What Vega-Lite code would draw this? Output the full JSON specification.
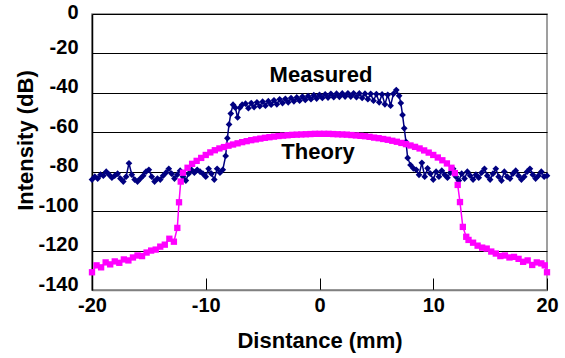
{
  "$schema": "https://vega.github.io/schema/vega-lite/v6.json",
  "width": 455,
  "height": 276,
  "autosize": {"type": "none"},
  "padding": {"left": 92, "top": 14, "right": 18, "bottom": 68},
  "background": "white",
  "config": {
    "view": {"stroke": "#808080", "strokeWidth": 1.5},
    "font": "Liberation Sans"
  },
  "datasets": {
    "curves": [
      {"series":"Measured","x":-20,"y":-84},{"series":"Measured","x":-19.75,"y":-82.5},{"series":"Measured","x":-19.5,"y":-83.5},{"series":"Measured","x":-19.25,"y":-81.5},{"series":"Measured","x":-19,"y":-82},{"series":"Measured","x":-18.75,"y":-80},{"series":"Measured","x":-18.5,"y":-81.5},{"series":"Measured","x":-18.25,"y":-83},{"series":"Measured","x":-18,"y":-82},{"series":"Measured","x":-17.75,"y":-81},{"series":"Measured","x":-17.5,"y":-83.5},{"series":"Measured","x":-17.25,"y":-85},{"series":"Measured","x":-17,"y":-82.5},{"series":"Measured","x":-16.75,"y":-75.7},{"series":"Measured","x":-16.5,"y":-81.5},{"series":"Measured","x":-16.25,"y":-84},{"series":"Measured","x":-16,"y":-85},{"series":"Measured","x":-15.75,"y":-83.5},{"series":"Measured","x":-15.5,"y":-82},{"series":"Measured","x":-15.25,"y":-80},{"series":"Measured","x":-15,"y":-79},{"series":"Measured","x":-14.75,"y":-82.5},{"series":"Measured","x":-14.5,"y":-85},{"series":"Measured","x":-14.25,"y":-83.5},{"series":"Measured","x":-14,"y":-84},{"series":"Measured","x":-13.75,"y":-82},{"series":"Measured","x":-13.5,"y":-80.5},{"series":"Measured","x":-13.25,"y":-78.5},{"series":"Measured","x":-13,"y":-81},{"series":"Measured","x":-12.75,"y":-83.5},{"series":"Measured","x":-12.5,"y":-81.5},{"series":"Measured","x":-12.25,"y":-79.5},{"series":"Measured","x":-12,"y":-82.5},{"series":"Measured","x":-11.75,"y":-84.5},{"series":"Measured","x":-11.5,"y":-81},{"series":"Measured","x":-11.25,"y":-79},{"series":"Measured","x":-11,"y":-80.5},{"series":"Measured","x":-10.75,"y":-79},{"series":"Measured","x":-10.5,"y":-80},{"series":"Measured","x":-10.25,"y":-81},{"series":"Measured","x":-10,"y":-82.5},{"series":"Measured","x":-9.75,"y":-78.5},{"series":"Measured","x":-9.5,"y":-81},{"series":"Measured","x":-9.25,"y":-84},{"series":"Measured","x":-9,"y":-78.5},{"series":"Measured","x":-8.75,"y":-80.5},
      {"series":"Measured","x":-8.5,"y":-79},{"series":"Measured","x":-8.25,"y":-72},{"series":"Measured","x":-8.1,"y":-63},{"series":"Measured","x":-7.95,"y":-56},{"series":"Measured","x":-7.8,"y":-50.5},{"series":"Measured","x":-7.6,"y":-46},{"series":"Measured","x":-7.4,"y":-47.5},{"series":"Measured","x":-7.2,"y":-52.5},{"series":"Measured","x":-7.0,"y":-47.5},{"series":"Measured","x":-6.8,"y":-46},
      {"series":"Measured","x":-6.5,"y":-45.5},{"series":"Measured","x":-6.25,"y":-47.8},{"series":"Measured","x":-6,"y":-45.2},{"series":"Measured","x":-5.75,"y":-47.2},{"series":"Measured","x":-5.5,"y":-44.8},{"series":"Measured","x":-5.25,"y":-46.8},{"series":"Measured","x":-5,"y":-44.5},{"series":"Measured","x":-4.75,"y":-46.5},{"series":"Measured","x":-4.5,"y":-44.2},{"series":"Measured","x":-4.25,"y":-46},{"series":"Measured","x":-4,"y":-43.8},{"series":"Measured","x":-3.75,"y":-45.8},{"series":"Measured","x":-3.5,"y":-43.3},{"series":"Measured","x":-3.25,"y":-45.2},{"series":"Measured","x":-3,"y":-43},{"series":"Measured","x":-2.75,"y":-44.8},{"series":"Measured","x":-2.5,"y":-42.6},{"series":"Measured","x":-2.25,"y":-44.3},{"series":"Measured","x":-2,"y":-42.3},{"series":"Measured","x":-1.75,"y":-44},{"series":"Measured","x":-1.5,"y":-41.9},{"series":"Measured","x":-1.25,"y":-43.6},{"series":"Measured","x":-1,"y":-41.6},{"series":"Measured","x":-0.75,"y":-43.2},{"series":"Measured","x":-0.5,"y":-41.2},{"series":"Measured","x":-0.25,"y":-42.9},{"series":"Measured","x":0,"y":-41},{"series":"Measured","x":0.25,"y":-42.6},{"series":"Measured","x":0.5,"y":-40.7},{"series":"Measured","x":0.75,"y":-42.4},{"series":"Measured","x":1,"y":-40.5},{"series":"Measured","x":1.25,"y":-42.2},{"series":"Measured","x":1.5,"y":-40.4},{"series":"Measured","x":1.75,"y":-42},{"series":"Measured","x":2,"y":-40.3},{"series":"Measured","x":2.25,"y":-41.9},{"series":"Measured","x":2.5,"y":-40.2},{"series":"Measured","x":2.75,"y":-41.9},{"series":"Measured","x":3,"y":-40.2},{"series":"Measured","x":3.25,"y":-42.2},{"series":"Measured","x":3.5,"y":-40.3},{"series":"Measured","x":3.75,"y":-42.6},{"series":"Measured","x":4,"y":-40.4},{"series":"Measured","x":4.25,"y":-43.2},{"series":"Measured","x":4.5,"y":-40.5},{"series":"Measured","x":4.75,"y":-44},{"series":"Measured","x":5,"y":-40.6},{"series":"Measured","x":5.25,"y":-44.8},{"series":"Measured","x":5.5,"y":-40.8},{"series":"Measured","x":5.75,"y":-45.8},{"series":"Measured","x":6,"y":-41},{"series":"Measured","x":6.25,"y":-46.5},{"series":"Measured","x":6.5,"y":-40.5},{"series":"Measured","x":6.75,"y":-38.6},{"series":"Measured","x":7,"y":-41.5},{"series":"Measured","x":7.15,"y":-45.2},
      {"series":"Measured","x":7.3,"y":-51.2},{"series":"Measured","x":7.45,"y":-58},{"series":"Measured","x":7.6,"y":-64.8},{"series":"Measured","x":7.75,"y":-73},{"series":"Measured","x":8,"y":-76.6},{"series":"Measured","x":8.25,"y":-78.3},
      {"series":"Measured","x":8.5,"y":-79},{"series":"Measured","x":8.75,"y":-81.6},{"series":"Measured","x":9,"y":-75.5},{"series":"Measured","x":9.25,"y":-82.5},{"series":"Measured","x":9.5,"y":-78.3},{"series":"Measured","x":9.75,"y":-81},{"series":"Measured","x":10,"y":-84},{"series":"Measured","x":10.25,"y":-80},{"series":"Measured","x":10.5,"y":-82.5},{"series":"Measured","x":10.75,"y":-79.5},{"series":"Measured","x":11,"y":-81.5},{"series":"Measured","x":11.25,"y":-83},{"series":"Measured","x":11.5,"y":-80.5},{"series":"Measured","x":11.75,"y":-78.5},{"series":"Measured","x":12,"y":-82.5},{"series":"Measured","x":12.25,"y":-84.5},{"series":"Measured","x":12.5,"y":-81},{"series":"Measured","x":12.75,"y":-83.5},{"series":"Measured","x":13,"y":-80},{"series":"Measured","x":13.25,"y":-82},{"series":"Measured","x":13.5,"y":-84},{"series":"Measured","x":13.75,"y":-81.5},{"series":"Measured","x":14,"y":-83},{"series":"Measured","x":14.25,"y":-80.5},{"series":"Measured","x":14.5,"y":-78.5},{"series":"Measured","x":14.75,"y":-82},{"series":"Measured","x":15,"y":-84},{"series":"Measured","x":15.25,"y":-81},{"series":"Measured","x":15.5,"y":-78.5},{"series":"Measured","x":15.75,"y":-82.5},{"series":"Measured","x":16,"y":-84.5},{"series":"Measured","x":16.25,"y":-80},{"series":"Measured","x":16.5,"y":-82.5},{"series":"Measured","x":16.75,"y":-83.5},{"series":"Measured","x":17,"y":-81},{"series":"Measured","x":17.25,"y":-79.5},{"series":"Measured","x":17.5,"y":-82},{"series":"Measured","x":17.75,"y":-84},{"series":"Measured","x":18,"y":-82.5},{"series":"Measured","x":18.25,"y":-80},{"series":"Measured","x":18.5,"y":-78.5},{"series":"Measured","x":18.75,"y":-81.5},{"series":"Measured","x":19,"y":-83.5},{"series":"Measured","x":19.25,"y":-82},{"series":"Measured","x":19.5,"y":-80},{"series":"Measured","x":19.75,"y":-82.5},{"series":"Measured","x":20,"y":-82},
      {"series":"Theory","x":-20,"y":-131},{"series":"Theory","x":-19.6,"y":-127.5},{"series":"Theory","x":-19.2,"y":-128.5},{"series":"Theory","x":-18.8,"y":-126},{"series":"Theory","x":-18.4,"y":-127},{"series":"Theory","x":-18,"y":-125.5},{"series":"Theory","x":-17.6,"y":-126.2},{"series":"Theory","x":-17.2,"y":-124.5},{"series":"Theory","x":-16.8,"y":-125},{"series":"Theory","x":-16.4,"y":-123.5},{"series":"Theory","x":-16,"y":-122.5},{"series":"Theory","x":-15.6,"y":-122.8},{"series":"Theory","x":-15.2,"y":-121},{"series":"Theory","x":-14.8,"y":-120},{"series":"Theory","x":-14.4,"y":-119.5},{"series":"Theory","x":-14,"y":-118},{"series":"Theory","x":-13.6,"y":-117},{"series":"Theory","x":-13.2,"y":-114},{"series":"Theory","x":-12.8,"y":-115.5},{"series":"Theory","x":-12.5,"y":-108.5},{"series":"Theory","x":-12.35,"y":-95.5},{"series":"Theory","x":-12.2,"y":-85},{"series":"Theory","x":-12,"y":-80.5},
      {"series":"Theory","x":-11.6,"y":-78},{"series":"Theory","x":-11.2,"y":-76},{"series":"Theory","x":-10.8,"y":-74.5},{"series":"Theory","x":-10.4,"y":-73},{"series":"Theory","x":-10,"y":-71.5},{"series":"Theory","x":-9.6,"y":-70.2},{"series":"Theory","x":-9.2,"y":-69.1},{"series":"Theory","x":-8.8,"y":-68.2},{"series":"Theory","x":-8.4,"y":-67.5},{"series":"Theory","x":-8,"y":-66.8},{"series":"Theory","x":-7.6,"y":-66.2},{"series":"Theory","x":-7.2,"y":-65.6},{"series":"Theory","x":-6.8,"y":-65},{"series":"Theory","x":-6.4,"y":-64.5},{"series":"Theory","x":-6,"y":-64},{"series":"Theory","x":-5.6,"y":-63.6},{"series":"Theory","x":-5.2,"y":-63.2},{"series":"Theory","x":-4.8,"y":-62.8},{"series":"Theory","x":-4.4,"y":-62.5},{"series":"Theory","x":-4,"y":-62.2},{"series":"Theory","x":-3.6,"y":-61.9},{"series":"Theory","x":-3.2,"y":-61.7},{"series":"Theory","x":-2.8,"y":-61.5},{"series":"Theory","x":-2.4,"y":-61.3},{"series":"Theory","x":-2,"y":-61.2},{"series":"Theory","x":-1.6,"y":-61.1},{"series":"Theory","x":-1.2,"y":-61},{"series":"Theory","x":-0.8,"y":-60.9},{"series":"Theory","x":-0.4,"y":-60.8},{"series":"Theory","x":0,"y":-60.8},{"series":"Theory","x":0.4,"y":-60.8},{"series":"Theory","x":0.8,"y":-60.8},{"series":"Theory","x":1.2,"y":-60.9},{"series":"Theory","x":1.6,"y":-61},{"series":"Theory","x":2,"y":-61.1},{"series":"Theory","x":2.4,"y":-61.2},{"series":"Theory","x":2.8,"y":-61.4},{"series":"Theory","x":3.2,"y":-61.6},{"series":"Theory","x":3.6,"y":-61.8},{"series":"Theory","x":4,"y":-62},{"series":"Theory","x":4.4,"y":-62.3},{"series":"Theory","x":4.8,"y":-62.7},{"series":"Theory","x":5.2,"y":-63},{"series":"Theory","x":5.6,"y":-63.4},{"series":"Theory","x":6,"y":-63.8},{"series":"Theory","x":6.4,"y":-64.3},{"series":"Theory","x":6.8,"y":-64.8},{"series":"Theory","x":7.2,"y":-65.4},{"series":"Theory","x":7.6,"y":-66},{"series":"Theory","x":8,"y":-66.7},{"series":"Theory","x":8.4,"y":-67.4},{"series":"Theory","x":8.8,"y":-68.2},{"series":"Theory","x":9.2,"y":-69.2},{"series":"Theory","x":9.6,"y":-70.3},{"series":"Theory","x":10,"y":-71.5},{"series":"Theory","x":10.4,"y":-72.8},{"series":"Theory","x":10.8,"y":-74.2},{"series":"Theory","x":11.2,"y":-75.8},{"series":"Theory","x":11.6,"y":-78},
      {"series":"Theory","x":11.9,"y":-80.7},{"series":"Theory","x":12.15,"y":-86.7},{"series":"Theory","x":12.35,"y":-95.4},{"series":"Theory","x":12.6,"y":-108},{"series":"Theory","x":12.9,"y":-113},{"series":"Theory","x":13.1,"y":-114.6},{"series":"Theory","x":13.5,"y":-116},{"series":"Theory","x":13.9,"y":-117.5},{"series":"Theory","x":14.3,"y":-118.5},{"series":"Theory","x":14.7,"y":-119},{"series":"Theory","x":15.1,"y":-120.5},{"series":"Theory","x":15.5,"y":-121.5},{"series":"Theory","x":15.9,"y":-122.8},{"series":"Theory","x":16.3,"y":-122.5},{"series":"Theory","x":16.7,"y":-123.5},{"series":"Theory","x":17.1,"y":-123.2},{"series":"Theory","x":17.5,"y":-124.2},{"series":"Theory","x":17.9,"y":-125.7},{"series":"Theory","x":18.3,"y":-125},{"series":"Theory","x":18.7,"y":-127.3},{"series":"Theory","x":19.1,"y":-126},{"series":"Theory","x":19.5,"y":-126.5},{"series":"Theory","x":19.8,"y":-127.5},{"series":"Theory","x":20,"y":-131}
    ],
    "labels": [
      {"label":"Measured","x":0.13,"y":-30.9},
      {"label":"Theory","x":-0.13,"y":-70}
    ]
  },
  "layer": [
    {
      "data": {"name": "curves"},
      "mark": {"type": "line", "strokeWidth": 1.5},
      "encoding": {
        "x": {
          "field": "x", "type": "quantitative",
          "scale": {"domain": [-20, 20], "nice": false, "zero": false},
          "axis": {
            "values": [-20, -10, 0, 10, 20],
            "tickCount": 20,
            "labelExpr": "'' + datum.value",
            "title": "Disntance (mm)",
            "titleFont": "Liberation Sans", "titleFontSize": 22, "titleFontWeight": "bold", "titleColor": "black",
            "titleBaseline": "middle", "titleY": 50,
            "labelFont": "Liberation Sans", "labelFontSize": 20, "labelFontWeight": "bold", "labelColor": "black",
            "labelPadding": 17, "labelFlush": false, "labelOverlap": false,
            "grid": false,
            "domainColor": "#808080", "domainWidth": 1.5,
            "ticks": true, "tickSize": -12, "tickColor": "black", "tickWidth": 1
          }
        },
        "y": {
          "field": "y", "type": "quantitative",
          "scale": {"domain": [-140, 0], "nice": false, "zero": false},
          "axis": {
            "values": [-140, -120, -100, -80, -60, -40, -20, 0],
            "tickCount": 20,
            "labelExpr": "'' + datum.value",
            "title": "Intensity (dB)",
            "titleFont": "Liberation Sans", "titleFontSize": 22, "titleFontWeight": "bold", "titleColor": "black",
            "titleAngle": -90, "titleAlign": "center", "titleBaseline": "middle", "titleX": -67, "titleY": 126,
            "labelFont": "Liberation Sans", "labelFontSize": 20, "labelFontWeight": "bold", "labelColor": "black",
            "labelPadding": 14,
            "labelOffset": {"condition": {"test": "datum.value === 0", "value": -2}, "value": -6},
            "labelFlush": false, "labelOverlap": false,
            "ticks": false,
            "grid": true,
            "gridColor": "black",
            "gridWidth": 1.2, "gridOpacity": 1,
            "domainColor": "black", "domainWidth": 1.5
          }
        },
        "color": {
          "field": "series", "type": "nominal",
          "scale": {"domain": ["Measured", "Theory"], "range": ["#000080", "#FF00FF"]},
          "legend": null
        },
        "order": {"field": "x", "type": "quantitative"}
      }
    },
    {
      "data": {"name": "curves"},
      "mark": {"type": "point", "filled": true, "opacity": 1},
      "encoding": {
        "x": {"field": "x", "type": "quantitative"},
        "y": {"field": "y", "type": "quantitative"},
        "color": {"field": "series", "type": "nominal", "legend": null},
        "shape": {
          "field": "series", "type": "nominal",
          "scale": {"domain": ["Measured", "Theory"], "range": ["diamond", "square"]},
          "legend": null
        },
        "size": {
          "field": "series", "type": "nominal",
          "scale": {"domain": ["Measured", "Theory"], "range": [45, 40]},
          "legend": null
        }
      }
    },
    {
      "data": {"name": "labels"},
      "mark": {"type": "text", "font": "Liberation Sans", "fontSize": 22, "fontWeight": "bold", "color": "black", "baseline": "middle", "align": "center"},
      "encoding": {
        "x": {"field": "x", "type": "quantitative"},
        "y": {"field": "y", "type": "quantitative"},
        "text": {"field": "label"}
      }
    }
  ]
}
